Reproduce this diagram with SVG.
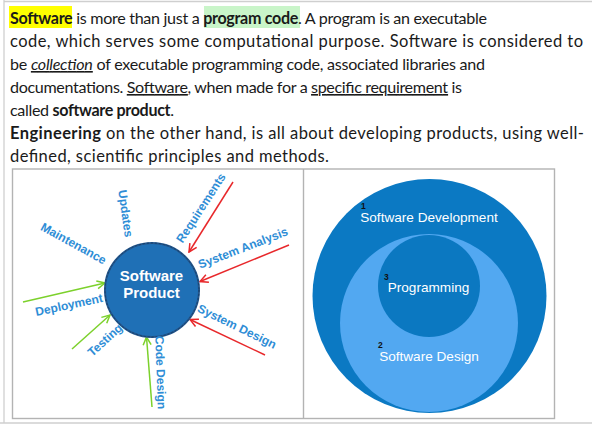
<svg xmlns="http://www.w3.org/2000/svg" width="592" height="425" viewBox="0 0 592 425">
  <style>
    .para { font-family: Lato, "Open Sans", sans-serif; font-size: 16.1px; fill: #1a1a1a; }
    .wide { font-size: 16.5px; }
    .b { font-weight: bold; }
    .u { text-decoration: underline; }
    .frame { stroke: #cfcfcf; stroke-width: 1.3; fill: none; }
    .cell { stroke: #b3b3b3; stroke-width: 1.4; fill: none; }
    .lbl { font-family: "Liberation Sans", Arial, sans-serif; font-weight: bold; font-size: 12px; fill: #2e8dd6; text-anchor: middle; dominant-baseline: central; }
    .core { font-family: "Liberation Sans", Arial, sans-serif; font-weight: bold; font-size: 15px; fill: #ffffff; text-anchor: middle; }
    .ring { font-family: "Liberation Sans", Arial, sans-serif; font-size: 13.6px; fill: #ffffff; text-anchor: middle; }
    .num { font-family: "Liberation Sans", Arial, sans-serif; font-weight: bold; font-size: 8.5px; fill: #111111; }
    .red { stroke: #e8282b; stroke-width: 1.5; fill: none; }
    .green { stroke: #7cd12c; stroke-width: 1.5; fill: none; }
  </style>
  <defs>
    <marker id="head-red" viewBox="0 0 10 10" refX="9" refY="5" markerWidth="10" markerHeight="10" markerUnits="userSpaceOnUse" orient="auto">
      <path d="M1,1 L9,5 L1,9" fill="none" stroke="#e8282b" stroke-width="1.5"/>
    </marker>
    <marker id="head-green" viewBox="0 0 10 10" refX="9" refY="5" markerWidth="10" markerHeight="10" markerUnits="userSpaceOnUse" orient="auto">
      <path d="M1,1 L9,5 L1,9" fill="none" stroke="#7cd12c" stroke-width="1.5"/>
    </marker>
  </defs>

  <rect width="592" height="425" fill="#ffffff"/>

  <!-- page frame -->
  <g id="page-frame">
    <line class="frame" x1="4" y1="1.5" x2="592" y2="1.5"/>
    <line class="frame" x1="4" y1="0" x2="4" y2="423"/>
    <line class="frame" x1="0" y1="423" x2="592" y2="423"/>
  </g>

  <!-- paragraph text -->
  <g id="paragraph">
    <rect x="9" y="6" width="63" height="22" fill="#ffff00"/>
    <rect x="204" y="6" width="96" height="22" fill="#c9f5c9"/>
    <text class="para" x="10" y="24" textLength="477" lengthAdjust="spacing"><tspan class="b">Software</tspan> is more than just a <tspan class="b">program code</tspan>. A program is an executable</text>
    <text class="para wide" x="10" y="47" textLength="573" lengthAdjust="spacing">code, which serves some computational purpose. Software is considered to</text>
    <text class="para" x="10" y="70" textLength="475" lengthAdjust="spacing">be <tspan class="u" font-style="italic">collection</tspan> of executable programming code, associated libraries and</text>
    <text class="para" x="10" y="93" textLength="452" lengthAdjust="spacing">documentations. <tspan class="u">Software</tspan>, when made for a <tspan class="u">specific requirement</tspan> is</text>
    <text class="para" x="10" y="116" textLength="164" lengthAdjust="spacing">called <tspan class="b">software product</tspan>.</text>
    <text class="para wide" x="10" y="139" textLength="574" lengthAdjust="spacing"><tspan class="b">Engineering</tspan> on the other hand, is all about developing products, using well-</text>
    <text class="para wide" x="10" y="162" textLength="319" lengthAdjust="spacing">defined, scientific principles and methods.</text>
  </g>

  <!-- two-cell table -->
  <g id="table">
    <rect class="cell" x="12.5" y="169" width="542" height="249.5"/>
    <line class="cell" x1="303.5" y1="169" x2="303.5" y2="418.5"/>
  </g>

  <!-- left: lifecycle around the product -->
  <g id="connectors">
    <line class="red" x1="233" y1="182" x2="189" y2="252" marker-end="url(#head-red)"/>
    <line class="red" x1="289" y1="245" x2="200" y2="281.5" marker-end="url(#head-red)"/>
    <line class="red" x1="265" y1="355" x2="190" y2="319.5" marker-end="url(#head-red)"/>
    <line class="green" x1="23" y1="302" x2="105" y2="283" marker-end="url(#head-green)"/>
    <line class="green" x1="72" y1="349" x2="110" y2="315" marker-end="url(#head-green)"/>
    <line class="green" x1="152" y1="407" x2="146.5" y2="337" marker-end="url(#head-green)"/>
  </g>

  <g id="software-product">
    <circle cx="152" cy="290" r="47" fill="#1f70b6" stroke="#23568c" stroke-width="2"/>
    <circle cx="152" cy="290" r="47" fill="none" stroke="#163f6b" stroke-width="1" stroke-dasharray="2 2"/>
    <text class="core" x="151.5" y="280.5">Software</text>
    <text class="core" x="151.5" y="298">Product</text>
  </g>

  <g id="label-maintenance"><text class="lbl" transform="translate(73.5,243.5) rotate(29)">Maintenance</text></g>
  <g id="label-updates"><text class="lbl" transform="translate(125.5,213.5) rotate(82)">Updates</text></g>
  <g id="label-requirements"><text class="lbl" transform="translate(201,208) rotate(-57)">Requirements</text></g>
  <g id="label-system-analysis"><text class="lbl" transform="translate(243,248) rotate(-21)">System Analysis</text></g>
  <g id="label-system-design"><text class="lbl" transform="translate(237,326.5) rotate(26)">System Design</text></g>
  <g id="label-code-design"><text class="lbl" transform="translate(160.5,372.5) rotate(88)">Code Design</text></g>
  <g id="label-testing"><text class="lbl" transform="translate(105,340) rotate(-42)">Testing</text></g>
  <g id="label-deployment"><text class="lbl" transform="translate(69,305) rotate(-12)">Deployment</text></g>

  <!-- right: nested scopes -->
  <g id="software-development">
    <circle cx="429.5" cy="296" r="117" fill="#0b79c3"/>
    <text class="num" x="361" y="208.5">1</text>
    <text class="ring" x="429" y="222">Software Development</text>
  </g>
  <g id="software-design">
    <circle cx="429" cy="323" r="89" fill="#52a8f1"/>
    <text class="num" x="378" y="347.5">2</text>
    <text class="ring" x="429" y="361">Software Design</text>
  </g>
  <g id="programming">
    <circle cx="429" cy="286" r="51" fill="#0b78c1"/>
    <text class="num" x="384" y="279.5">3</text>
    <text class="ring" x="428.5" y="292">Programming</text>
  </g>
</svg>
